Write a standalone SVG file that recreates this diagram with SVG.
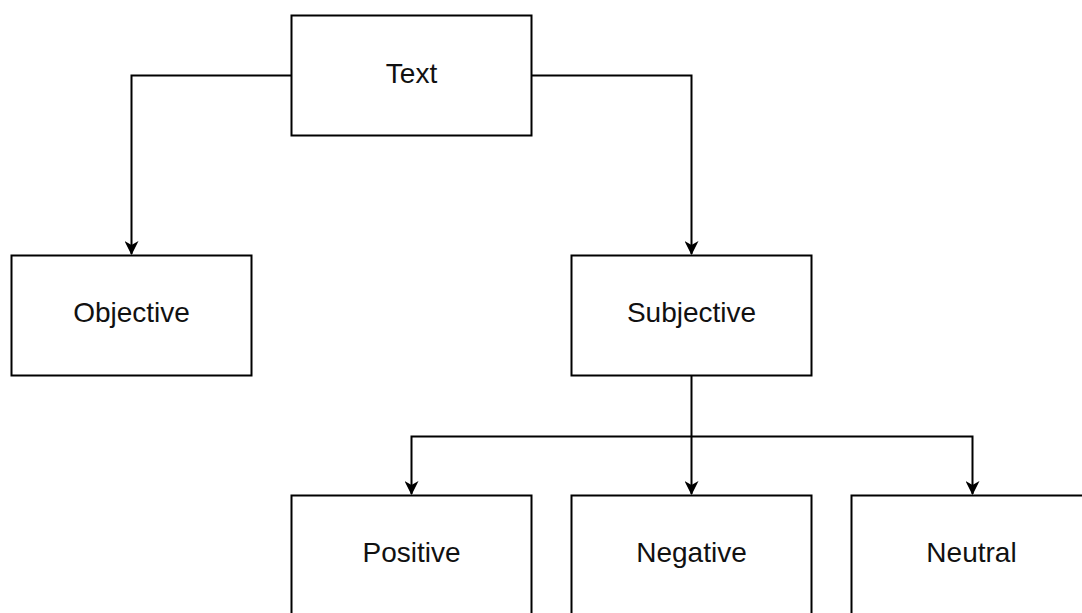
<svg xmlns="http://www.w3.org/2000/svg" width="1082" height="613" viewBox="0 0 1082 613">
  <style>
    .box { fill: #ffffff; stroke: #000000; stroke-width: 2; }
    .label { font-family: "Liberation Sans", Arial, sans-serif; font-size: 28px; fill: #111111; text-anchor: middle; }
    .edge { fill: none; stroke: #000000; stroke-width: 2; }
  </style>
  <defs>
    <marker id="arrow" viewBox="0 0 14 14" refX="13" refY="7" markerWidth="14" markerHeight="14" markerUnits="userSpaceOnUse" orient="auto">
      <path d="M0,0 L14,7 L0,14 L4,7 Z" fill="#000000"/>
    </marker>
  </defs>
  <rect width="1082" height="613" fill="#ffffff"/>

  <g id="connectors">
    <path class="edge" d="M291.5,75.5 H131.5 V254" marker-end="url(#arrow)"/>
    <path class="edge" d="M531.5,75.5 H691.5 V254" marker-end="url(#arrow)"/>
    <path class="edge" d="M691.5,375.5 V494" marker-end="url(#arrow)"/>
    <path class="edge" d="M691.5,436.5 H411.5 V494" marker-end="url(#arrow)"/>
    <path class="edge" d="M691.5,436.5 H972.5 V494" marker-end="url(#arrow)"/>
  </g>

  <g id="node-text">
    <rect class="box" x="291.5" y="15.5" width="240" height="120"/>
    <text class="label" x="411.5" y="82.5">Text</text>
  </g>
  <g id="node-objective">
    <rect class="box" x="11.5" y="255.5" width="240" height="120"/>
    <text class="label" x="131.5" y="322">Objective</text>
  </g>
  <g id="node-subjective">
    <rect class="box" x="571.5" y="255.5" width="240" height="120"/>
    <text class="label" x="691.5" y="322">Subjective</text>
  </g>
  <g id="node-positive">
    <rect class="box" x="291.5" y="495.5" width="240" height="120"/>
    <text class="label" x="411.5" y="562">Positive</text>
  </g>
  <g id="node-negative">
    <rect class="box" x="571.5" y="495.5" width="240" height="120"/>
    <text class="label" x="691.5" y="562">Negative</text>
  </g>
  <g id="node-neutral">
    <rect class="box" x="851.5" y="495.5" width="240" height="120"/>
    <text class="label" x="971.5" y="562">Neutral</text>
  </g>
</svg>
